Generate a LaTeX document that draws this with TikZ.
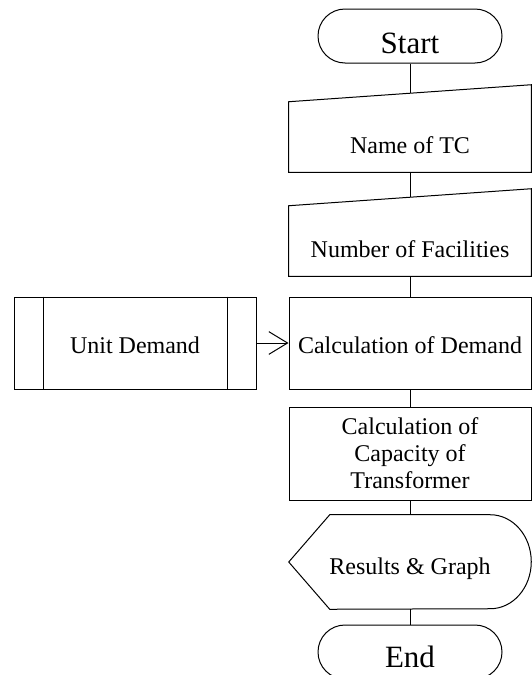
\documentclass[tikz,border=0pt]{standalone}
\usepackage{fontspec}
\setmainfont{Liberation Serif}
\usepackage{tikz}
\usetikzlibrary{arrows.meta, shapes.misc}

\tikzset{
  flowline/.style={line width=0.75pt},
  terminal/.style={rounded rectangle, draw, flowline, minimum width=138pt, minimum height=40.5pt, inner sep=0pt, font=\fontsize{23.25}{26}\selectfont},
  process/.style={rectangle, draw, flowline, minimum width=181.5pt, minimum height=69pt, inner sep=0pt, align=center, font=\fontsize{18}{20.25}\selectfont},
  inputarea/.style={rectangle, minimum width=181.5pt, minimum height=52.5pt, inner sep=0pt, text height=24pt, text depth=0pt, font=\fontsize{18}{20.25}\selectfont},
}

\begin{document}
\begin{tikzpicture}[x=0.75pt,y=0.75pt,yscale=-1]
\clip (0,0) rectangle (532,675);

%Terminal: start
\node [terminal, text height=25.5pt, text depth=0pt] (start) at (410,36) {Start};

%Manual input: name of TC
\node [inputarea] (tc) at (410,137) {Name of TC};
\draw [flowline] (tc.south west) -- (tc.north west) -- ([yshift=-12.75pt]tc.north east) -- (tc.south east) -- cycle;
\coordinate (tc-top) at ([yshift=-6.375pt]tc.north);

%Manual input: number of facilities
\node [inputarea] (fac) at (410,241) {Number of Facilities};
\draw [flowline] (fac.south west) -- (fac.north west) -- ([yshift=-12.75pt]fac.north east) -- (fac.south east) -- cycle;
\coordinate (fac-top) at ([yshift=-6.375pt]fac.north);

%Process: demand
\node [process, text height=15.75pt, text depth=0pt] (demand) at (410,343) {Calculation of Demand};

%Predefined process: unit demand
\node [process, text height=15.75pt, text depth=0pt] (unit) at (135,343) {Unit Demand};
\draw [flowline] ([xshift=22.5pt]unit.north west) -- ([xshift=22.5pt]unit.south west);
\draw [flowline] ([xshift=-21.75pt]unit.north east) -- ([xshift=-21.75pt]unit.south east);

%Process: transformer capacity
\node [process, minimum height=69.75pt] (cap) at (410,453.5) {Calculation of\\Capacity of\\Transformer};

%Display: results
\node [inputarea, minimum height=70.5pt, text height=18pt] (res) at (410,562) {Results \& Graph};
\draw [flowline] (res.west) -- ([xshift=30.75pt]res.north west) -- ([xshift=-30.75pt]res.north east)
  arc [start angle=-90, end angle=90, x radius=30.75pt, y radius=35.25pt] -- ([xshift=30.75pt]res.south west) -- cycle;

%Terminal: end
\node [terminal, text height=22.5pt, text depth=0pt] (stop) at (410,652) {End};

%Flow lines
\draw [flowline] (start.south) -- (tc-top);
\draw [flowline] (tc.south) -- (fac-top);
\draw [flowline] (fac.south) -- (demand.north);
\draw [flowline] (demand.south) -- (cap.north);
\draw [flowline] (cap.south) -- (res.north);
\draw [flowline] (res.south) -- (stop.north);
\draw [flowline, -{Straight Barb[length=14pt, width=17pt]}] (unit.east) -- (demand.west);

\end{tikzpicture}
\end{document}
